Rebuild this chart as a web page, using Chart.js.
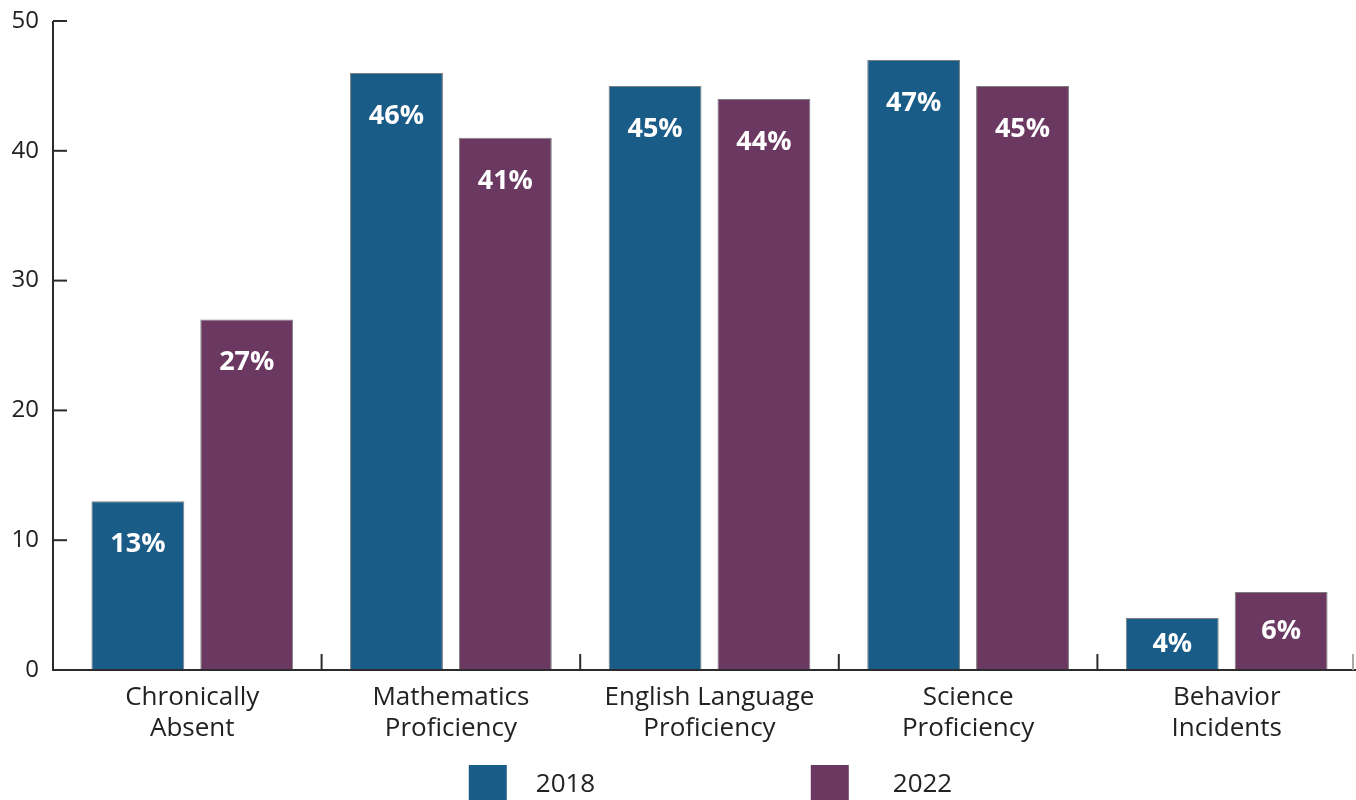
<!DOCTYPE html>
<html>
<head>
<meta charset="utf-8">
<script src="https://cdn.jsdelivr.net/npm/chart.js@4.4.1/dist/chart.umd.min.js"></script>
<style>
  html, body { margin: 0; padding: 0; background: #fff; overflow: hidden; }
  #wrap { width: 1356px; height: 815px; position: relative; }
</style>
</head>
<body>
<div id="wrap"><canvas id="chart"></canvas></div>
<script>
// Data
const categories = [
  ["Chronically", "Absent"],
  ["Mathematics", "Proficiency"],
  ["English Language", "Proficiency"],
  ["Science", "Proficiency"],
  ["Behavior", "Incidents"]
];
const values2018 = [13, 46, 45, 47, 4];
const values2022 = [27, 41, 44, 45, 6];
const yTicks = [0, 10, 20, 30, 40, 50];

const BLUE = "#1a5c88";
const PURPLE = "#6a3860";
const AXIS = "#2b2b2b";
const FONT = "'Open Sans', 'Noto Sans', sans-serif";

// axis lines + inside ticks, drawn off the library scales
const axisPlugin = {
  id: "axisLines",
  afterDatasetsDraw(chart) {
    const { ctx, chartArea, scales } = chart;
    const axisX = chartArea.left - 10;
    ctx.save();
    ctx.strokeStyle = AXIS;
    ctx.lineWidth = 2;
    ctx.beginPath();
    ctx.moveTo(axisX, scales.y.getPixelForValue(50));
    ctx.lineTo(axisX, chartArea.bottom);
    ctx.lineTo(chartArea.right, chartArea.bottom);
    ctx.stroke();
    // y ticks pointing right
    yTicks.forEach(v => {
      const py = scales.y.getPixelForValue(v);
      ctx.beginPath();
      ctx.moveTo(axisX, py);
      ctx.lineTo(axisX + 14, py);
      ctx.stroke();
    });
    // x boundary ticks pointing up
    for (let i = 1; i <= categories.length; i++) {
      const px = Math.min(scales.x.getPixelForValue(i - 0.5), chartArea.right - 3);
      ctx.strokeStyle = i === categories.length ? "#aaa" : AXIS;
      ctx.beginPath();
      ctx.moveTo(px, chartArea.bottom);
      ctx.lineTo(px, chartArea.bottom - 16);
      ctx.stroke();
    }
    ctx.restore();
  }
};

// value labels inside bars
const labelPlugin = {
  id: "barLabels",
  afterDatasetsDraw(chart) {
    const { ctx } = chart;
    ctx.save();
    ctx.fillStyle = "#fff";
    ctx.font = "bold 27px " + FONT;
    ctx.textAlign = "center";
    ctx.textBaseline = "middle";
    chart.data.datasets.forEach((ds, di) => {
      chart.getDatasetMeta(di).data.forEach((bar, i) => {
        const y = Math.min(bar.y + 43, (bar.y + bar.base) / 2);
        ctx.fillText(ds.data[i] + "%", bar.x, y);
      });
    });
    ctx.restore();
  }
};

// wide-spaced legend at the bottom
const legendPlugin = {
  id: "wideLegend",
  afterDraw(chart) {
    const { ctx, chartArea } = chart;
    const box = 38, gap = 342;
    const textGap = [29, 44];
    ctx.save();
    ctx.font = "26px " + FONT;
    ctx.textBaseline = "middle";
    const items = chart.data.datasets;
    const lastW = box + textGap[1] + ctx.measureText(items[items.length - 1].label).width;
    const total = gap * (items.length - 1) + lastW;
    let x = (chartArea.left - 10 + chartArea.right) / 2 - total / 2 + 6;
    const top = 765;
    items.forEach((ds, i) => {
      ctx.fillStyle = ds.backgroundColor;
      ctx.fillRect(x, top, box, box);
      ctx.fillStyle = "#222";
      ctx.fillText(ds.label, x + box + textGap[i], top + 20);
      x += gap;
    });
    ctx.restore();
  }
};

new Chart(document.getElementById("chart"), {
  type: "bar",
  data: {
    labels: categories,
    datasets: [
      {
        label: "2018",
        data: values2018,
        backgroundColor: BLUE,
        borderColor: "rgba(20,20,20,0.55)",
        borderWidth: 1,
        borderSkipped: "bottom"
      },
      {
        label: "2022",
        data: values2022,
        backgroundColor: PURPLE,
        borderColor: "rgba(20,20,20,0.55)",
        borderWidth: 1,
        borderSkipped: "bottom"
      }
    ]
  },
  options: {
    responsive: true,
    maintainAspectRatio: false,
    animation: false,
    layout: { padding: { top: 21, left: 0, right: 0, bottom: 58 } },
    datasets: { bar: { categoryPercentage: 0.842, barPercentage: 0.853 } },
    plugins: {
      legend: { display: false },
      tooltip: { enabled: false }
    },
    scales: {
      x: {
        grid: { display: false, drawTicks: false },
        border: { display: false },
        ticks: {
          color: "#222",
          padding: 12,
          font: { family: FONT, size: 26, lineHeight: 1.2 },
          maxRotation: 0
        },
        afterFit(scale) {
          scale.height = 87;
          scale.paddingLeft = 0;
          scale.paddingRight = 0;
        }
      },
      y: {
        min: 0,
        max: 50,
        grid: { display: false, drawTicks: false },
        border: { display: false },
        ticks: {
          stepSize: 10,
          color: "#222",
          padding: 24,
          font: { family: FONT, size: 24 }
        },
        afterFit(scale) {
          scale.width = 63;
          scale.paddingTop = 0;
          scale.paddingBottom = 0;
        }
      }
    }
  },
  plugins: [axisPlugin, labelPlugin, legendPlugin]
});
</script>
</body>
</html>
